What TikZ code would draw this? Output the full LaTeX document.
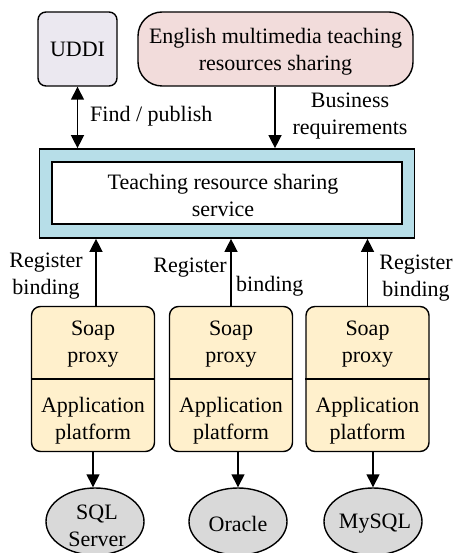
\documentclass[tikz,border=0pt]{standalone}
\usepackage{fontspec}
\setmainfont{Liberation Serif}
\newfontfamily\labelfont{Liberation Serif}
\usetikzlibrary{arrows.meta,shapes.geometric}

\definecolor{uddifill}{HTML}{EBE8F0}
\definecolor{engfill}{HTML}{F2DCDB}
\definecolor{svcfill}{HTML}{B7DEE8}
\definecolor{soapfill}{HTML}{FFF0CC}
\definecolor{dbfill}{HTML}{D9D9D9}

\tikzset{
  txt/.style={font=\labelfont\fontsize{22}{27}\selectfont, align=center, inner sep=0pt},
  box/.style={draw=black, line width=1.4pt, inner sep=0pt},
  tip/.tip={Triangle[length=13pt,width=13pt]},
  arr/.style={line width=1.4pt, -tip},
  darr/.style={line width=1.4pt, tip-tip},
  stack/.style={box, rounded corners=9pt, fill=soapfill, minimum width=123pt, minimum height=145pt},
  db/.style={box, ellipse, fill=dbfill, minimum width=98pt, minimum height=67pt},
}

\begin{document}
\begin{tikzpicture}[x=1pt,y=-1pt]
\useasboundingbox (0,0) rectangle (454,553);

% top row
\node[box, rounded corners=8pt, fill=uddifill, minimum width=79pt, minimum height=74pt, txt] (uddi) at (77.5,49) {UDDI};
\node[box, rounded corners=24pt, fill=engfill, minimum width=275pt, minimum height=74pt] (eng) at (275.5,49) {};
\node[txt] (engtxt) at (275.5,52) {English multimedia teaching\\resources sharing};

% service frame
\node[box, line width=1.7pt, fill=svcfill, minimum width=375pt, minimum height=89pt] (svc) at (227,193.5) {};
\node[box, line width=1.7pt, fill=white, minimum width=350pt, minimum height=62pt] (svcin) at (227,193) {};
\node[txt] (svctxt) at (223,195) {Teaching resource sharing\\service};

% connections from the top row
\coordinate (bizx) at (275,0);
\draw[darr] (uddi.south) -- (uddi.south |- svc.north);
\draw[arr] (eng.south -| bizx) -- (svc.north -| bizx);
\node[txt, anchor=west] (findlbl) at (90,116) {Find / publish};
\node[txt] (bizlbl) at (350,116) {Business\\requirements};

% proxy / platform stacks
\foreach \i/\cx in {1/93,2/231,3/367.5}{
  \node[stack] (stack\i) at (\cx,379) {};
  \draw[line width=1.4pt] (stack\i.west |- 0,379) -- (stack\i.east |- 0,379);
  \node[txt] (soap\i) at (\cx,344) {Soap\\proxy};
  \node[txt] (app\i) at (\cx,421) {Application\\platform};
}

% register binding arrows
\coordinate (up1) at (96,0);
\coordinate (up2) at (231,0);
\coordinate (up3) at (367.5,0);
\draw[arr] (stack1.north -| up1) -- (svc.south -| up1);
\draw[arr] (stack2.north -| up2) -- (svc.south -| up2);
\draw[arr] (stack3.north -| up3) -- (svc.south -| up3);
\node[txt] (reg1) at (46,276) {Register\\binding};
\node[txt, anchor=east] (reg2a) at (227,268) {Register};
\node[txt, anchor=west] (reg2b) at (236,286) {binding};
\node[txt] (reg3) at (416,278) {Register\\binding};

% databases
\node[db] (sql) at (95,521.5) {};
\node[db] (ora) at (238,521.5) {};
\node[db] (my) at (373,521.5) {};
\node[txt] (sqltxt) at (97,526) {SQL\\Server};
\node[txt] (oratxt) at (238,524) {Oracle};
\node[txt] (mytxt) at (375,524) {MySQL};
\coordinate (dn1) at (93,0);
\coordinate (dn2) at (238,0);
\coordinate (dn3) at (373,0);
\draw[arr] (stack1.south -| dn1) -- (sql.north -| dn1);
\draw[arr] (stack2.south -| dn2) -- (ora.north);
\draw[arr] (stack3.south -| dn3) -- (my.north);
\end{tikzpicture}
\end{document}
